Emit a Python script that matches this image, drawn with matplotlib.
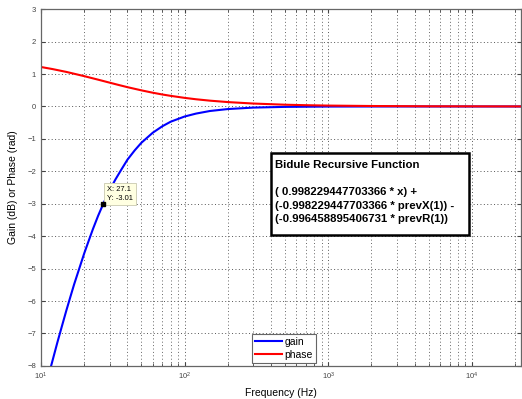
import matplotlib
matplotlib.use("Agg")
import matplotlib.pyplot as plt
from matplotlib.patches import Rectangle

# values
gain_freq = [11.7, 13, 14, 15, 16, 17, 18.5, 20, 21.5, 23, 25, 27.1, 30, 33, 36, 40, 45, 50,
             60, 70, 80, 100, 120, 150, 200, 300, 500, 1000, 3000, 22050]
gain_db = [-8.04, -7.28, -6.77, -6.30, -5.88, -5.49, -4.99, -4.53, -4.14, -3.78, -3.37, -3.01,
           -2.59, -2.25, -1.97, -1.64, -1.35, -1.12, -0.81, -0.61, -0.47, -0.31, -0.22,
           -0.14, -0.08, -0.035, -0.013, -0.003, 0.0, 0.0]

phase_freq = [10, 12, 15, 20, 25, 30, 35, 40, 50, 60, 70, 80, 100, 120, 150, 200, 300, 500,
              700, 1000, 2000, 5000, 22050]
phase_rad = [1.217, 1.154, 1.066, 0.935, 0.826, 0.735, 0.659, 0.595, 0.497, 0.424, 0.369,
             0.327, 0.265, 0.222, 0.179, 0.135, 0.090, 0.054, 0.039, 0.027, 0.014, 0.005, 0.001]

tip_x, tip_y = 27.1, -3.01
formula_lines = [
    "Bidule Recursive Function",
    "",
    "( 0.998229447703366 * x) +",
    "(-0.998229447703366 * prevX(1)) -",
    "(-0.996458895406731 * prevR(1))",
]

plt.rcParams["font.family"] = ["Liberation Sans", "DejaVu Sans"]

fig = plt.figure(figsize=(5.22, 3.99), dpi=100)
ax = fig.add_axes([0.0785, 0.083, 0.92, 0.894])

ax.plot(gain_freq, gain_db, color="#0000ff", lw=1.5, label="gain")
ax.plot(phase_freq, phase_rad, color="#ff0000", lw=1.5, label="phase")

ax.set_xscale("log")
ax.set_xlim(10, 22050)
ax.set_ylim(-8, 3)
ax.set_yticks(range(-8, 4))

ax.grid(True, which="major", ls=(0, (1, 2.5)), color="#555555", lw=0.7)
ax.grid(True, which="minor", axis="x", ls=(0, (1, 2.5)), color="#666666", lw=0.7)
ax.tick_params(which="both", direction="in", top=True, right=True, labelsize=5.5, length=3,
               colors="#444444")
ax.tick_params(which="minor", length=2)
for s in ax.spines.values():
    s.set_color("#666666")
    s.set_linewidth(0.9)

ax.set_xlabel("Frequency (Hz)", fontsize=7.5, labelpad=4)
ax.set_ylabel("Gain (dB) or Phase (rad)", fontsize=7.5, labelpad=7)

# datatip
ax.annotate("X: 27.1\nY: -3.01", xy=(tip_x, tip_y), xytext=(3, 1.5), textcoords="offset points",
            fontsize=5.4, va="bottom", ha="left", linespacing=1.3,
            bbox=dict(boxstyle="square,pad=0.4", fc="#ffffe1", ec="#d0d0b8", lw=0.7))
ax.plot([tip_x], [tip_y], "s", color="black", ms=3.5, zorder=6)

# text box
ax.add_patch(Rectangle((0.479, 0.367), 0.413, 0.23, transform=ax.transAxes, fc="white",
                       ec="black", lw=1.8, zorder=4))
ax.text(0.4875, 0.577, "\n".join(formula_lines), transform=ax.transAxes, fontsize=8.2,
        fontweight="bold", va="top", ha="left", linespacing=1.45, zorder=5)

leg = ax.legend(loc="lower center", bbox_to_anchor=(0.506, 0.0), fontsize=7.5, fancybox=False,
                framealpha=1, handlelength=2.6, borderpad=0.3, labelspacing=0.25,
                handletextpad=0.2, borderaxespad=0.3)
leg.get_frame().set_edgecolor("#666666")
leg.get_frame().set_linewidth(0.8)

fig.savefig("out.png", dpi=100)
